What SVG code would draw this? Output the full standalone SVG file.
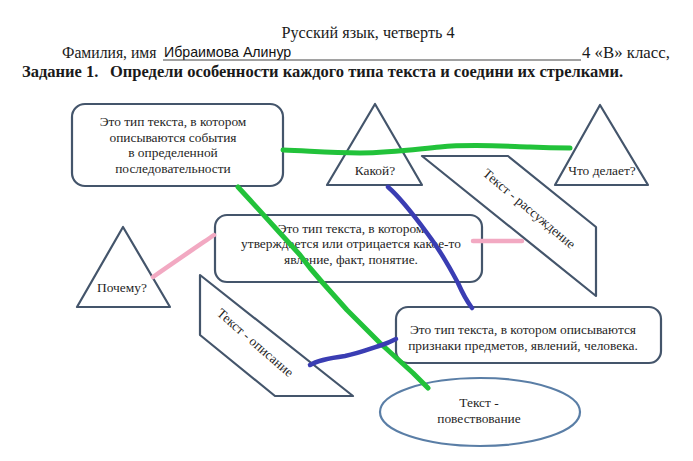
<svg xmlns="http://www.w3.org/2000/svg" width="693" height="461" viewBox="0 0 693 461">
<style>
.shape{fill:#ffffff;stroke:#44556b;stroke-width:2.2;stroke-linejoin:round}
.t{font-family:"Liberation Serif","DejaVu Serif",serif;font-size:13.4px;fill:#1f1f1f;text-anchor:middle}
.h{font-family:"Liberation Serif","DejaVu Serif",serif;fill:#1a1a1a}
.g{fill:none;stroke:#22c23a;stroke-width:5;stroke-linecap:round;stroke-linejoin:round}
.b{fill:none;stroke:#3a3db3;stroke-width:4.5;stroke-linecap:round;stroke-linejoin:round}
.p{fill:none;stroke:#f2a9c2;stroke-width:4.5;stroke-linecap:round}
</style>
<rect width="693" height="461" fill="#ffffff"/>
<g id="header">
<text class="h" x="368" y="38" font-size="16.2" text-anchor="middle">Русский язык, четверть 4</text>
<text class="h" x="62" y="58" font-size="15.7">Фамилия, имя</text>
<text x="164" y="57" font-family="Liberation Sans, Arial, sans-serif" font-size="14.2" fill="#111">Ибраимова Алинур</text>
<line x1="163" y1="60" x2="581" y2="60" stroke="#444" stroke-width="1"/>
<text class="h" x="582" y="58" font-size="16.8">4 «В» класс,</text>
<text class="h" x="22" y="77" font-size="16.5" font-weight="bold" fill="#d22b26">Задание 1.</text>
<text class="h" x="110" y="77" font-size="16.5" font-weight="bold">Определи особенности каждого типа текста и соедини их стрелками.</text>
</g>
<g id="node-narration-def">
<rect class="shape" x="72" y="104" width="211" height="82" rx="13"/>
<text class="t" x="173" y="126">Это тип текста, в котором</text>
<text class="t" x="173" y="142">описываются события</text>
<text class="t" x="173" y="157">в определенной</text>
<text class="t" x="173" y="173">последовательности</text>
</g>
<g id="node-kakoy">
<polygon class="shape" points="375,104 327,185 422,185"/>
<text class="t" x="375" y="175">Какой?</text>
</g>
<g id="node-chto-delaet">
<polygon class="shape" points="600,105 555,185 648,185"/>
<text class="t" x="602" y="175">Что делает?</text>
</g>
<g id="node-rassuzhdenie">
<polygon class="shape" points="422,156 508,156 596,227 596,296"/>
<text class="t" x="529" y="213" transform="rotate(40 529 209)">Текст - рассуждение</text>
</g>
<g id="node-reasoning-def">
<rect class="shape" x="215" y="215" width="267" height="67" rx="12"/>
<text class="t" x="351" y="233">Это тип текста, в котором</text>
<text class="t" x="351" y="248">утверждается или отрицается какое-то</text>
<text class="t" x="351" y="264">явление, факт, понятие.</text>
</g>
<g id="node-pochemu">
<polygon class="shape" points="123,227 77,307 170,307"/>
<text class="t" x="122" y="292">Почему?</text>
</g>
<g id="node-opisanie">
<polygon class="shape" points="200,275 353,396 275,396 200,335"/>
<text class="t" x="255" y="347" transform="rotate(41 255 343)">Текст - описание</text>
</g>
<g id="node-description-def">
<rect class="shape" x="396" y="307" width="265" height="56" rx="12"/>
<text class="t" x="523" y="334">Это тип текста, в котором описываются</text>
<text class="t" x="523" y="350">признаки предметов, явлений, человека.</text>
</g>
<g id="node-povestvovanie">
<ellipse cx="480" cy="412" rx="100" ry="34" fill="#ffffff" stroke="#5a7ea6" stroke-width="2.2"/>
<text class="t" x="479" y="407">Текст -</text>
<text class="t" x="479" y="423">повествование</text>
</g>
<g id="connectors">
<path class="g" d="M283,150 C310,151 330,153 360,153 C390,153 410,150 440,147 C470,144 500,146 530,147 C550,148 560,148 570,148"/>
<path class="g" d="M238,187 L250,200 L280,233 L300,255 L310,268 L322,282 L347,310 L380,343 L413,373 L428,388"/>
<path class="b" d="M388,187 C395,193 410,210 427,233 C440,250 450,268 458,283 C462,292 466,300 472,308"/>
<path class="b" d="M310,365 C318,360 330,358 345,356 C360,353 372,348 382,345 C388,343 392,341 396,339"/>
<path class="p" d="M153,277 C170,265 195,248 214,235"/>
<path class="p" d="M473,241 L522,241"/>
</g>
</svg>
